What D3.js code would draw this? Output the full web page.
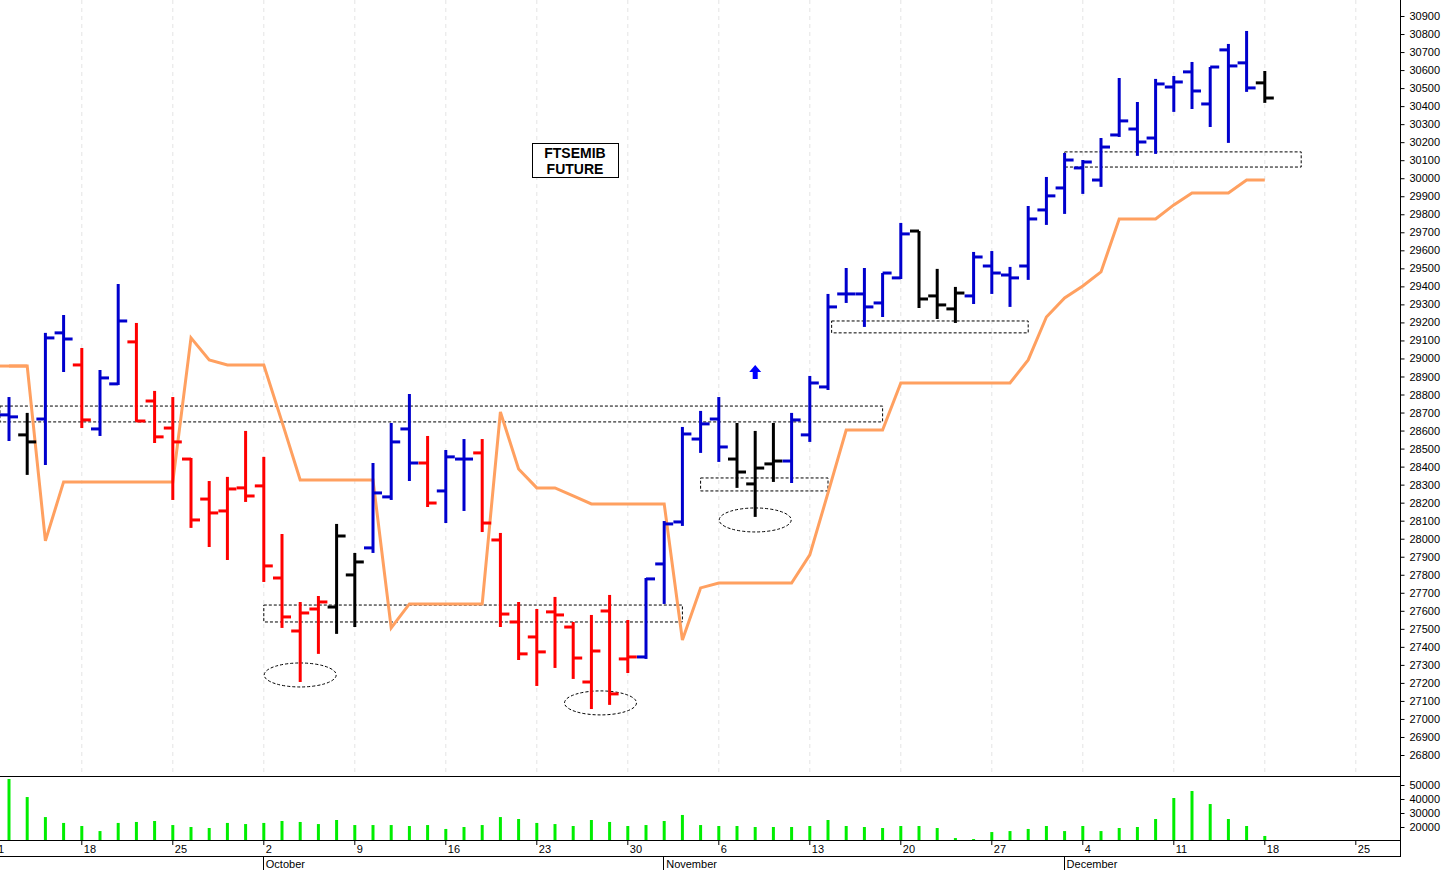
<!DOCTYPE html>
<html><head><meta charset="utf-8">
<script src="https://cdn.jsdelivr.net/npm/d3@7"></script>
<style>body{margin:0;background:#fff}svg{display:block;font-family:"Liberation Sans",Arial,sans-serif}</style>
</head><body><svg id="c" width="1449" height="870"></svg>
<script>
// OHLC bars, index 0 = 12 Sep
const opens  = [28687,28576,28664,29142,28964,28609,28859,29092,28764,28614,28442,28220,28154,28282,28293,27782,27488,27610,27621,27799,27949,28232,28609,28420,28265,28442,28476,27993,27538,27455,27594,27510,27205,27599,27333,27344,27860,28093,28553,28664,28442,28304,28415,28431,28576,28842,29358,29358,29308,29447,29707,29347,29275,29347,29513,29463,29513,29824,29946,30057,29990,30240,30273,30223,30506,30590,30412,30712,30640,30529];
const highs  = [28786,28698,29142,29241,29058,28936,29413,29197,28820,28786,28448,28320,28343,28598,28454,28026,27649,27682,28082,27921,28420,28642,28803,28570,28492,28553,28553,28032,27649,27610,27677,27538,27577,27688,27549,27782,28098,28620,28709,28786,28642,28598,28642,28698,28903,29358,29502,29502,29474,29752,29707,29497,29397,29591,29596,29508,29846,30007,30140,30101,30223,30556,30423,30551,30567,30645,30617,30745,30817,30595];
const lows   = [28542,28354,28409,28925,28614,28570,28853,28648,28531,28215,28060,27954,27882,28204,27760,27505,27205,27361,27472,27510,27921,28215,28320,28176,28087,28154,28037,27510,27327,27183,27283,27222,27055,27078,27255,27333,27638,28071,28476,28426,28282,28121,28315,28309,28537,28825,29308,29175,29230,29441,29280,29219,29197,29302,29358,29286,29436,29741,29802,29913,29952,30229,30124,30135,30368,30384,30284,30196,30479,30418];
const closes = [28676,28537,29114,29108,28659,28892,29208,28653,28565,28537,28104,28143,28276,28237,27849,27566,27588,27649,28015,27871,28254,28537,28420,28198,28454,28442,28087,27582,27361,27372,27577,27338,27377,27139,27344,27777,28082,28581,28637,28509,28370,28392,28431,28659,28864,29286,29358,29286,29474,29691,29330,29297,29363,29563,29474,29447,29774,29902,30101,30090,30173,30318,30201,30523,30534,30484,30617,30623,30501,30445];
const trend  = "bkbbrbbrrrrrrrrrrrkkbbbrbbrrrrrrrrrbbbbbkkkbbbbbbbkkkbbbbbbbbbbbbbbbbkk".split("");
const stopLine = [28958,28958,27988,28315,28315,28315,28315,28315,28315,28315,29114,28992,28964,28964,28964,28648,28326,28326,28326,28326,28326,27505,27638,27638,27638,27638,27638,28703,28387,28282,28282,28237,28193,28193,28193,28193,28193,27438,27727,27754,27754,27754,27754,27754,27910,28254,28603,28603,28603,28864,28864,28864,28864,28864,28864,28864,28992,29230,29336,29402,29480,29774,29774,29774,29852,29918,29918,29918,29990,29990];
const volume = [54300,41400,27100,22900,20700,17100,22900,23600,24300,21400,20000,19300,22900,22100,22900,24300,23600,22100,25000,21400,21400,21400,20700,21400,18600,20000,21400,27100,25700,22900,22100,20700,25000,23600,20700,21400,24300,28600,21400,20700,20700,20000,20000,20000,20700,25000,20700,20000,19300,20700,20700,19300,12100,11400,16400,17100,18600,20700,17100,20700,17100,19300,20000,25700,40700,45700,36400,25700,20700,13600];
const priceTicks = d3.range(26800, 30901, 100);
const volTicks = [20000,30000,40000,50000];
const weekIdx = [-1,4,9,14,19,24,29,34,39,44,49,54,59,64,69,74];
const weekLabels = ["11","18","25","2","9","16","23","30","6","13","20","27","4","11","18","25"];
const monthIdx = [14,36,58];
const monthLabels = ["October","November","December"];
// support/resistance zones: [startIdx, endIdx, low, high]
const zones = [[-0.5,48,28648,28736],[14,37,27538,27632],[38,45,28265,28337],[45.2,56,29142,29208],[58,71,30062,30146]];
// ellipses: [idx, price]
const rings = [[16,27244],[32.5,27089],[41,28104]];
const arrowAt = [41,28925];

const svg = d3.select("#c");
const x = d3.scaleLinear().domain([0,69]).range([9,1264.8]);
const y = d3.scaleLinear().domain([26800,30900]).range([755,16]);
const yv = d3.scaleLinear().domain([10714,50000]).range([840,785]);
const col = {b:"#0000cd", r:"#ff0000", k:"#000000"};

svg.append("clipPath").attr("id","pc").append("rect").attr("x",0).attr("y",0).attr("width",1400).attr("height",776);
const P = svg.append("g").attr("clip-path","url(#pc)");

P.selectAll(".g").data(weekIdx).join("line").attr("x1",d=>x(d)).attr("x2",d=>x(d)).attr("y1",0).attr("y2",776)
 .attr("stroke","#e4e4e4").attr("stroke-dasharray","4,4");

P.selectAll(".z").data(zones).join("rect").attr("x",d=>x(d[0])).attr("width",d=>x(d[1])-x(d[0]))
 .attr("y",d=>y(d[3])).attr("height",d=>y(d[2])-y(d[3])).attr("fill","none").attr("stroke","#000").attr("stroke-width",1).attr("stroke-dasharray","3,2");

P.append("path").datum(stopLine).attr("fill","none").attr("stroke","#ffa060").attr("stroke-width",3)
 .attr("d", d3.line().x((d,i)=>i===0?0:x(i)).y(d=>y(d))(stopLine.slice(0,2)));
P.append("path").datum(stopLine).attr("fill","none").attr("stroke","#ffa060").attr("stroke-width",3)
 .attr("d", d3.line().x((d,i)=>x(i)).y(d=>y(d)));

P.selectAll(".e").data(rings).join("ellipse").attr("cx",d=>x(d[0])).attr("cy",d=>y(d[1])).attr("rx",36).attr("ry",12)
 .attr("fill","none").attr("stroke","#000").attr("stroke-dasharray","3,2");

const bars = P.selectAll(".b").data(d3.range(opens.length)).join("g").attr("stroke",i=>col[trend[i]]).attr("stroke-width",3);
bars.append("line").attr("x1",i=>x(i)).attr("x2",i=>x(i)).attr("y1",i=>y(highs[i])).attr("y2",i=>y(lows[i]));
bars.append("line").attr("x1",i=>x(i)-9).attr("x2",i=>x(i)).attr("y1",i=>y(opens[i])).attr("y2",i=>y(opens[i]));
bars.append("line").attr("x1",i=>x(i)).attr("x2",i=>x(i)+9).attr("y1",i=>y(closes[i])).attr("y2",i=>y(closes[i]));

const ax = x(arrowAt[0]), ay = y(arrowAt[1]);
P.append("path").attr("d",`M${ax},${ay-7}L${ax+6},${ay}L${ax+2.5},${ay}L${ax+2.5},${ay+7}L${ax-2.5},${ay+7}L${ax-2.5},${ay}L${ax-6},${ay}Z`).attr("fill","#0000ff");

svg.append("rect").attr("x",532.5).attr("y",143.5).attr("width",86).attr("height",34).attr("fill","#fff").attr("stroke","#000");
svg.append("text").attr("x",575).attr("y",158).attr("text-anchor","middle").attr("font-weight","bold").attr("font-size",14).text("FTSEMIB");
svg.append("text").attr("x",575).attr("y",174).attr("text-anchor","middle").attr("font-weight","bold").attr("font-size",14).text("FUTURE");

svg.selectAll(".v").data(volume).join("line").attr("x1",(d,i)=>x(i)).attr("x2",(d,i)=>x(i)).attr("y1",840).attr("y2",d=>yv(d))
 .attr("stroke","#00ee00").attr("stroke-width",3);

svg.append("line").attr("x1",0).attr("x2",1400).attr("y1",776.5).attr("y2",776.5).attr("stroke","#000");
svg.append("line").attr("x1",0).attr("x2",1400).attr("y1",840.5).attr("y2",840.5).attr("stroke","#000");
svg.append("line").attr("x1",0).attr("x2",1400).attr("y1",856.5).attr("y2",856.5).attr("stroke","#000");
svg.append("line").attr("x1",1400.5).attr("x2",1400.5).attr("y1",0).attr("y2",857).attr("stroke","#000");

const ra = svg.append("g").attr("transform","translate(1400.5,0)").call(d3.axisRight(y).tickValues(priceTicks).tickSize(4).tickFormat(d3.format("d")));
ra.select(".domain").remove();
ra.selectAll("text").attr("font-size",11).attr("x",9).attr("font-family","Liberation Sans,Arial");
const va = svg.append("g").attr("transform","translate(1400.5,0)").call(d3.axisRight(yv).tickValues(volTicks).tickSize(4).tickFormat(d3.format("d")));
va.select(".domain").remove();
va.selectAll("text").attr("font-size",11).attr("x",9).attr("font-family","Liberation Sans,Arial");

svg.selectAll(".wt").data(weekIdx).join("line").attr("x1",d=>x(d)).attr("x2",d=>x(d)).attr("y1",841).attr("y2",845).attr("stroke","#000");
svg.selectAll(".wl").data(weekIdx).join("text").attr("x",d=>x(d)+2).attr("y",853).attr("font-size",11).text((d,i)=>weekLabels[i]);
svg.selectAll(".ml").data(monthIdx).join("line").attr("x1",d=>Math.round(x(d))-0.5).attr("x2",d=>Math.round(x(d))-0.5).attr("y1",856).attr("y2",870).attr("stroke","#000");
svg.selectAll(".mt").data(monthIdx).join("text").attr("x",d=>x(d)+2).attr("y",868).attr("font-size",11).text((d,i)=>monthLabels[i]);
</script></body></html>
